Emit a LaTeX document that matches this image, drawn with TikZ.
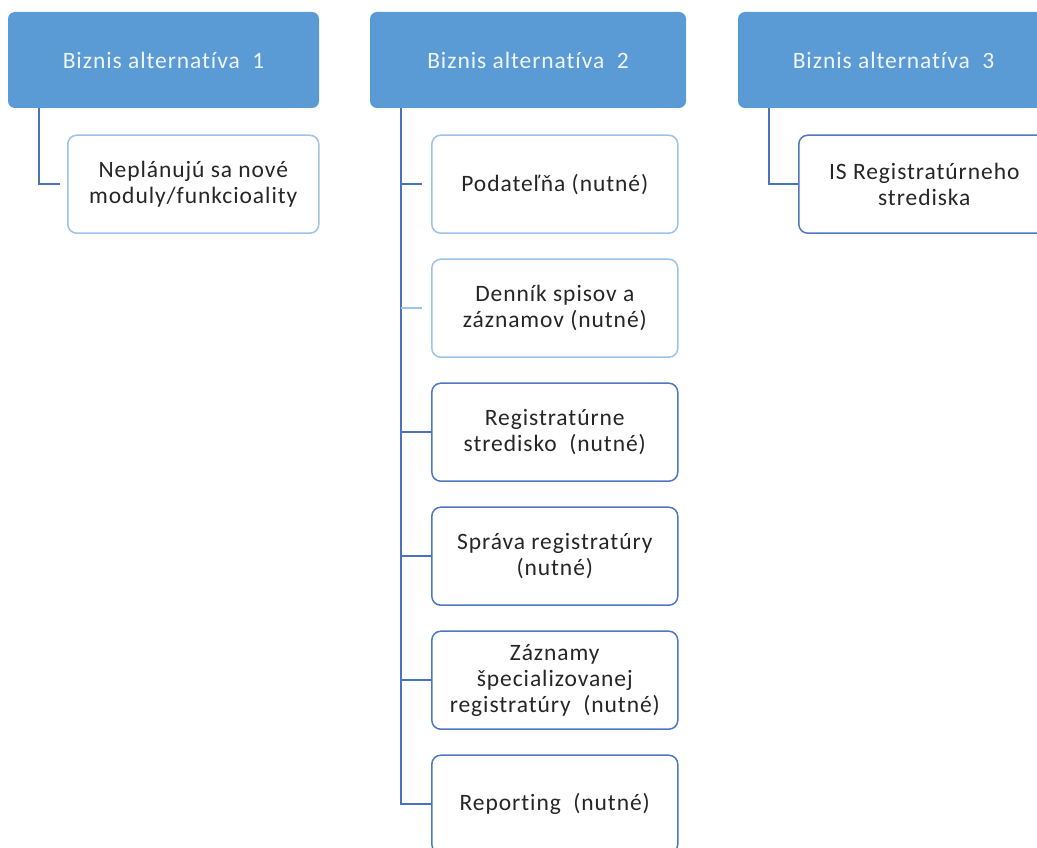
\documentclass[tikz,border=0pt]{standalone}
\usepackage{fontspec}
\setmainfont[LetterSpace=4,Ligatures={NoCommon}]{Carlito}
\usetikzlibrary{positioning}

\definecolor{altblue}{HTML}{5B9BD5}
\definecolor{altline}{HTML}{4A72BD}
\definecolor{lightedge}{HTML}{9DC3E6}
\definecolor{darkedge}{HTML}{4F77C2}
\definecolor{modtext}{HTML}{262626}

\tikzset{
  alt/.style={rectangle, rounded corners=7pt, fill=altblue, text=white!90!altblue,
    minimum width=311pt, minimum height=96pt, font=\fontsize{23.5}{26}\selectfont},
  modul/.style={rectangle, rounded corners=9pt, draw=#1, line width=1.5pt, fill=white,
    text=modtext, minimum width=246pt, minimum height=98pt, outer sep=0pt,
    align=center, font=\fontsize{23.5}{26}\selectfont},
  modul/.default=darkedge,
  link/.style={draw=altline, line width=1.5pt},
}

\begin{document}
\begin{tikzpicture}[x=1pt,y=-1pt,node distance=26pt]
\useasboundingbox (0,0) rectangle (1037,848);

\node[alt] (alt1) at (163.5,60) {Biznis alternatíva\ \ 1};
\node[alt, minimum width=316pt] (alt2) at (528,60) {Biznis alternatíva\ \ 2};
\node[alt] (alt3) at (893.5,60) {Biznis alternatíva\ \ 3};

% alternativa 1
\node[modul=lightedge, minimum width=251pt, below=27pt of alt1.south west, anchor=north west, xshift=60pt] (neplanuju) {Neplánujú sa nové\\moduly/funkcioality};

% alternativa 2
\node[modul=lightedge, below=27pt of alt2.south west, anchor=north west, xshift=62pt] (podatelna) {Podateľňa (nutné)};
\node[modul=lightedge, below=of podatelna] (dennik) {Denník spisov a\\záznamov (nutné)};
\node[modul, below=of dennik] (registraturne) {Registratúrne\\stredisko\ \ (nutné)};
\node[modul, below=of registraturne] (sprava) {Správa registratúry\\(nutné)};
\node[modul, below=of sprava] (zaznamy) {Záznamy\\špecializovanej\\registratúry\ \ (nutné)};
\node[modul, below=of zaznamy] (reporting) {Reporting\ \ (nutné)};

% alternativa 3
\node[modul, minimum width=251pt, below=27pt of alt3.south west, anchor=north west, xshift=61pt] (isreg) {IS Registratúrneho\\strediska};

% spojnice
\draw[link, shorten >=8pt] ([xshift=31pt]alt1.south west) |- (neplanuju.west);
\draw[link] ([xshift=31pt]alt3.south west) |- (isreg.west);
\coordinate (trunk) at ([xshift=31pt]alt2.south west);
\draw[link] (trunk) |- (reporting.west);
\foreach \m/\c/\s in {podatelna/altline/10, dennik/lightedge/10, registraturne/altline/0, sprava/altline/0, zaznamy/altline/0}
  \draw[link, draw=\c, shorten >=\s pt] (trunk |- \m.west) -- (\m.west);

\end{tikzpicture}
\end{document}
